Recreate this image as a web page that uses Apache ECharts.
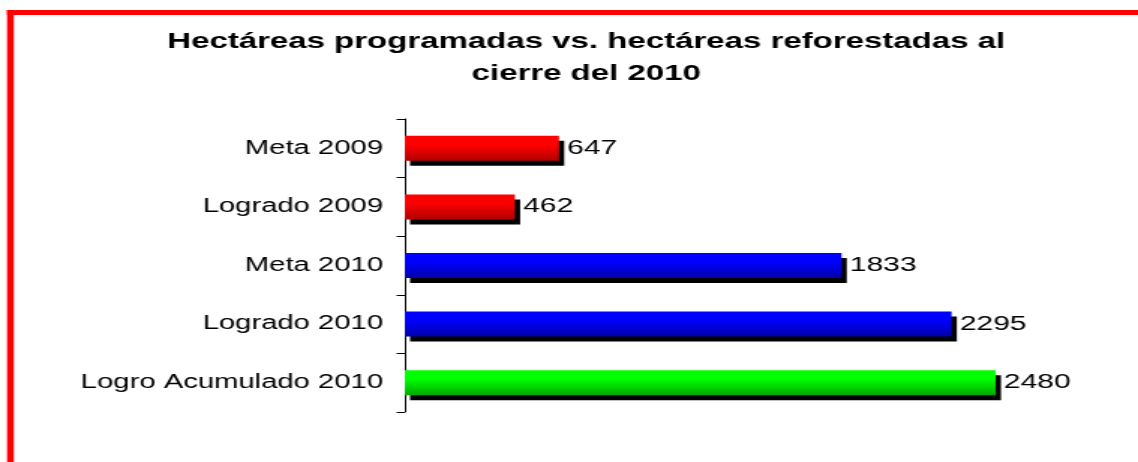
<!DOCTYPE html>
<html>
<head>
<meta charset="utf-8">
<script src="https://cdn.jsdelivr.net/npm/echarts@6/dist/echarts.min.js"></script>
<style>
  html, body { margin: 0; padding: 0; background: #fff; overflow: hidden; }
  /* el original esta estirado a lo ancho, se reproduce con scaleX */
  #chart { width: 759px; height: 462px; transform: scaleX(1.4993); transform-origin: 0 0; }
</style>
</head>
<body>
<div id="chart"></div>
<script>
// datos
var categorias = ['Meta 2009', 'Logrado 2009', 'Meta 2010', 'Logrado 2010', 'Logro Acumulado 2010'];
var hectareas = [647, 462, 1833, 2295, 2480];
var coloresArriba = ['#ff0000', '#ff0000', '#0000ff', '#0000ff', '#00ff00'];
var coloresAbajo = ['#b00000', '#b00000', '#0000a8', '#0000a8', '#00a800'];

function barColor(i) {
    return new echarts.graphic.LinearGradient(0, 0, 0, 1, [
        { offset: 0, color: coloresArriba[i] },
        { offset: 0.35, color: coloresArriba[i] },
        { offset: 1, color: coloresAbajo[i] }
    ]);
}

var datos = hectareas.map(function (v, i) {
    return {
        value: v,
        itemStyle: {
            color: barColor(i),
            shadowColor: '#000',
            shadowBlur: 0,
            shadowOffsetX: 3.5,
            shadowOffsetY: 5
        }
    };
});

var chart = echarts.init(document.getElementById('chart'));
var option = {
    backgroundColor: '#fff',
    animation: false,
    title: {
        text: 'Hectáreas programadas vs. hectáreas reforestadas al\ncierre del 2010',
        left: 386,
        textAlign: 'center',
        top: 21,
        textStyle: {
            fontFamily: 'Liberation Sans, Arial',
            fontSize: 22,
            fontWeight: 'bold',
            color: '#000',
            lineHeight: 32
        }
    },
    graphic: [
        { type: 'rect', shape: { x: 4.7, y: 10, width: 4.5, height: 460 }, style: { fill: '#ff0000' }, z: 100 },
        { type: 'rect', shape: { x: 4.7, y: 10, width: 760, height: 5 }, style: { fill: '#ff0000' }, z: 100 }
    ],
    grid: {
        left: 270,
        top: 119,
        width: 476.7,
        bottom: 50,
        containLabel: false
    },
    xAxis: {
        type: 'value',
        min: 0,
        max: 3000,
        show: false
    },
    yAxis: {
        type: 'category',
        data: categorias,
        inverse: true,
        axisLine: { show: true, lineStyle: { color: '#000', width: 1 } },
        axisTick: { show: true, length: 5.5, lineStyle: { color: '#000' } },
        axisLabel: {
            fontFamily: 'Liberation Sans, Arial',
            fontSize: 19.5,
            color: '#000',
            margin: 14.5
        },
        splitLine: { show: false }
    },
    series: [{
        type: 'bar',
        data: datos,
        barWidth: 25,
        label: {
            show: true,
            position: 'right',
            distance: 5.5,
            fontFamily: 'Liberation Sans, Arial',
            fontSize: 20,
            color: '#000'
        }
    }]
};
chart.setOption(option);
</script>
</body>
</html>
